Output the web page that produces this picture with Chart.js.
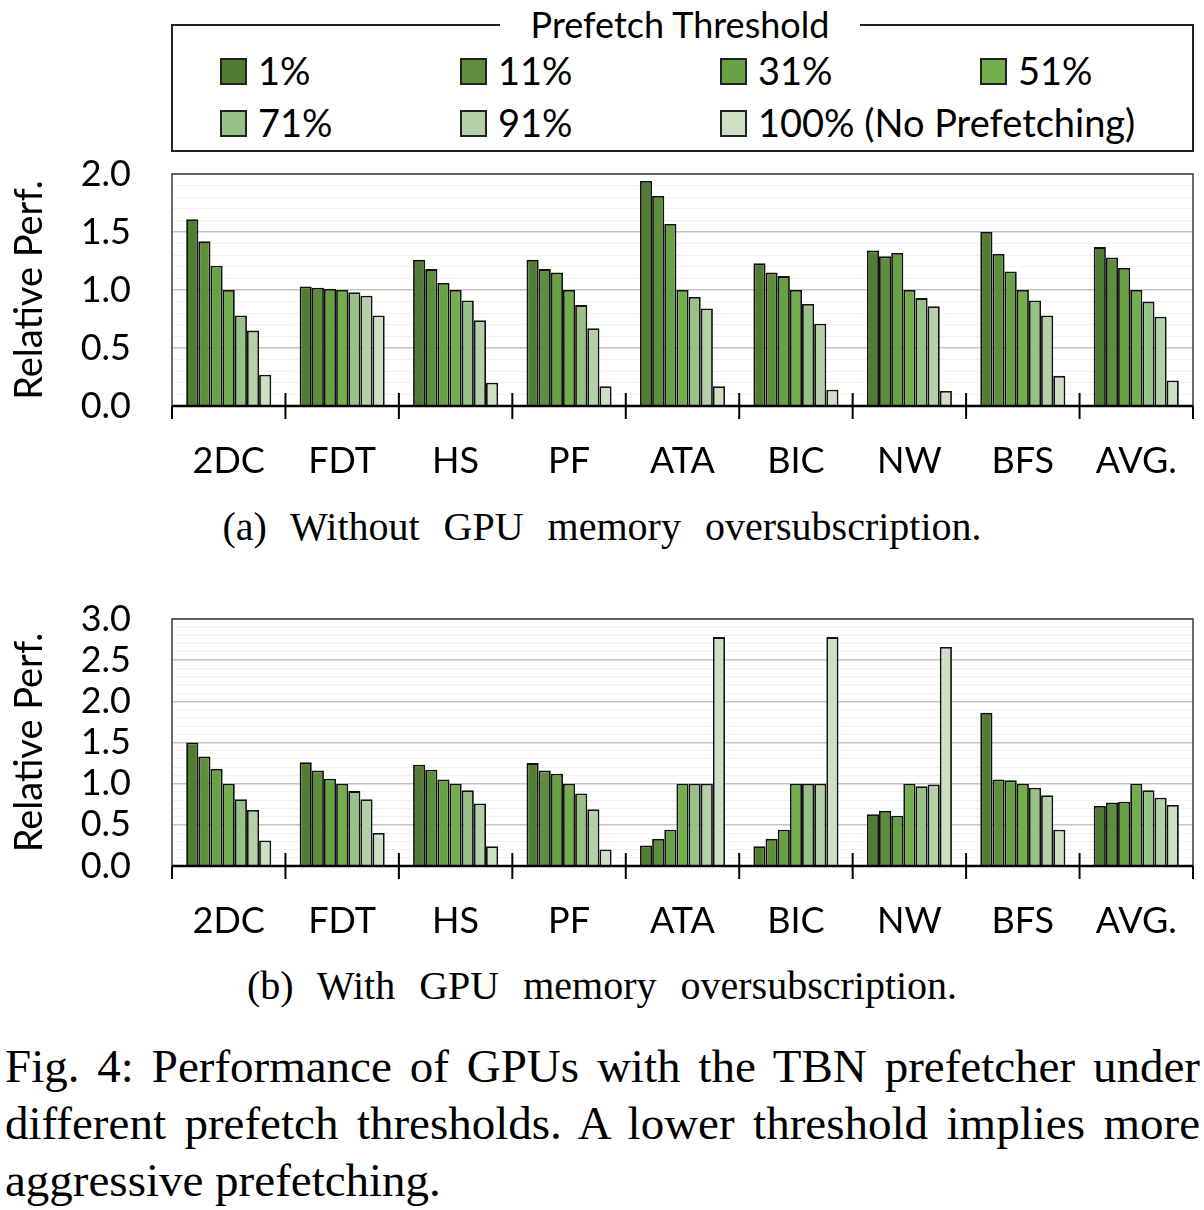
<!DOCTYPE html>
<html>
<head>
<meta charset="utf-8">
<script src="https://cdn.jsdelivr.net/npm/chart.js@4.4.0/dist/chart.umd.min.js"></script>
<style>
  html, body { margin:0; padding:0; background:#fff; }
  #page { position:relative; width:1204px; height:1210px; overflow:hidden; font-family:Lato, "Noto Sans", sans-serif; color:#000; }
  .abs { position:absolute; }
  #legendBox { left:171px; top:24px; width:1019px; height:124px; border:2px solid #222; }
  #legendTitle { left:500px; top:2px; width:360px; text-align:center; font-size:36px; line-height:44px; background:#fff; }
  .lgItem { position:absolute; height:44px; line-height:44px; font-size:38px; white-space:nowrap; }
  .lgSw { position:absolute; left:0; top:10px; width:23px; height:23px; border:2px solid #222; }
  .lgTx { position:absolute; left:38px; top:0; }
  .cap { font-family:"Liberation Serif", "DejaVu Serif", serif; font-size:40px; text-align:center; width:1204px; left:0; word-spacing:14px; }
  .fig { font-family:"Liberation Serif", "DejaVu Serif", serif; font-size:47px; left:5px; width:1195px; line-height:57px; }
  .jl { text-align:justify; text-align-last:justify; }
</style>
</head>
<body>
<div id="page">
  <div id="legendBox" class="abs"></div>
  <div id="legendTitle" class="abs">Prefetch Threshold</div>
  <div id="legendItems"></div>
  <div class="abs" style="left:0;top:150px;width:1204px;height:350px;"><canvas id="c1" width="1204" height="350"></canvas></div>
  <div class="abs cap" style="top:503px;line-height:48px;">(a) Without GPU memory oversubscription.</div>
  <div class="abs" style="left:0;top:595px;width:1204px;height:365px;"><canvas id="c2" width="1204" height="365"></canvas></div>
  <div class="abs cap" style="top:962px;line-height:48px;">(b) With GPU memory oversubscription.</div>
  <div class="abs fig" style="top:1038px;">
    <div class="jl">Fig. 4: Performance of GPUs with the TBN prefetcher under</div>
    <div class="jl">different prefetch thresholds. A lower threshold implies more</div>
    <div>aggressive prefetching.</div>
  </div>
</div>
<script>
// ---- data ----
const categories = ['2DC','FDT','HS','PF','ATA','BIC','NW','BFS','AVG.'];
const thresholds = ['1%','11%','31%','51%','71%','91%','100% (No Prefetching)'];
const colors = ['#527b34','#5e8e3c','#69a044','#74ad4c','#98c187','#b5d0a8','#cde0c6'];

// (a) Without GPU memory oversubscription
const noOver1   = [1.61,1.03,1.26,1.26,1.94,1.23,1.34,1.50,1.37];
const noOver11  = [1.42,1.02,1.18,1.18,1.81,1.15,1.29,1.31,1.28];
const noOver31  = [1.21,1.01,1.06,1.15,1.57,1.12,1.32,1.16,1.19];
const noOver51  = [1.00,1.00,1.00,1.00,1.00,1.00,1.00,1.00,1.00];
const noOver71  = [0.78,0.98,0.91,0.87,0.94,0.88,0.93,0.91,0.90];
const noOver91  = [0.65,0.95,0.74,0.67,0.84,0.71,0.86,0.78,0.77];
const noOver100 = [0.27,0.78,0.20,0.17,0.17,0.14,0.13,0.26,0.22];

// (b) With GPU memory oversubscription
const over1   = [1.50,1.26,1.23,1.25,0.25,0.24,0.63,1.86,0.73];
const over11  = [1.33,1.16,1.17,1.16,0.33,0.33,0.67,1.05,0.77];
const over31  = [1.18,1.06,1.05,1.12,0.44,0.44,0.61,1.04,0.78];
const over51  = [1.00,1.00,1.00,1.00,1.00,1.00,1.00,1.00,1.00];
const over71  = [0.81,0.91,0.92,0.88,1.00,1.00,0.97,0.95,0.92];
const over91  = [0.68,0.81,0.76,0.69,1.00,1.00,0.99,0.86,0.83];
const over100 = [0.31,0.40,0.24,0.20,2.78,2.78,2.66,0.44,0.74];

const yTicksA = { min:0, max:2.0, step:0.1, major:0.5 };
const yTicksB = { min:0, max:3.0, step:0.1, major:0.5 };

// ---- legend (HTML, built from the arrays) ----
const lgCols = [220,460,720,980];
const lgRows = [48,100];
const lgHost = document.getElementById('legendItems');
thresholds.forEach((t,i)=>{
  const it = document.createElement('div');
  it.className = 'lgItem';
  it.style.left = lgCols[i%4]+'px';
  it.style.top = lgRows[Math.floor(i/4)]+'px';
  const sw = document.createElement('div'); sw.className='lgSw'; sw.style.background = colors[i];
  const tx = document.createElement('div'); tx.className='lgTx'; tx.textContent = t;
  it.appendChild(sw); it.appendChild(tx); lgHost.appendChild(it);
});

// ---- charts ----
Chart.defaults.font.family = 'Lato';
Chart.defaults.color = '#000';

const framePlugin = {
  id:'frame',
  afterDraw(chart){
    const ctx = chart.ctx, a = chart.chartArea, xs = chart.scales.x;
    ctx.save();
    ctx.strokeStyle = '#3a3a3a'; ctx.lineWidth = 1.5;
    ctx.strokeRect(a.left, a.top, a.right-a.left, a.bottom-a.top);
    ctx.strokeStyle = '#000'; ctx.lineWidth = 2.5;
    ctx.beginPath(); ctx.moveTo(a.left, a.bottom); ctx.lineTo(a.right, a.bottom); ctx.stroke();
    ctx.lineWidth = 2;
    const n = categories.length;
    for (let i=0;i<=n;i++){
      let px;
      if (i===0) px = a.left;
      else if (i===n) px = a.right;
      else px = (xs.getPixelForValue(i-1)+xs.getPixelForValue(i))/2;
      ctx.beginPath(); ctx.moveTo(px, i===0||i===n ? a.bottom : a.bottom-13); ctx.lineTo(px, a.bottom+13); ctx.stroke();
    }
    ctx.restore();
  }
};

function makeChart(id, series, yt){
  const isMajor = v => Math.abs(Math.round(v*10) % Math.round(yt.major*10)) === 0;
  return new Chart(document.getElementById(id), {
    type:'bar',
    data:{
      labels: categories,
      datasets: series.map((d,i)=>({
        label: thresholds[i], data: d, backgroundColor: colors[i],
        borderColor:'#111', borderWidth:1.8, borderSkipped:'start',
        categoryPercentage:0.75, barPercentage:1.0
      }))
    },
    options:{
      responsive:false, animation:false, devicePixelRatio:1,
      layout:{ padding:{ top:24, right:11, bottom:0, left:0 } },
      plugins:{ legend:{display:false}, tooltip:{enabled:false} },
      scales:{
        x:{
          grid:{ display:false }, border:{ display:false },
          ticks:{ font:{ size:36 }, padding:26, color:'#000' },
          afterFit(s){ s.height = 94; }
        },
        y:{
          min:yt.min, max:yt.max,
          border:{ display:false },
          grid:{
            drawTicks:true, tickLength:39, tickColor:'rgba(0,0,0,0)',
            color: c => isMajor(c.tick.value) ? '#c4c4c4' : '#f1f1f1',
            lineWidth: c => isMajor(c.tick.value) ? 1.6 : 1
          },
          ticks:{
            stepSize:yt.step, autoSkip:false, padding:2, font:{ size:36 }, color:'#000',
            callback: v => isMajor(v) ? v.toFixed(1) : ''
          },
          title:{ display:true, text:'Relative Perf.', font:{ size:38 }, padding:{top:7,bottom:0}, color:'#000' },
          afterFit(s){ s.width = 172; }
        }
      }
    },
    plugins:[framePlugin]
  });
}

makeChart('c1', [noOver1,noOver11,noOver31,noOver51,noOver71,noOver91,noOver100], yTicksA);
makeChart('c2', [over1,over11,over31,over51,over71,over91,over100], yTicksB);
</script>
</body>
</html>
